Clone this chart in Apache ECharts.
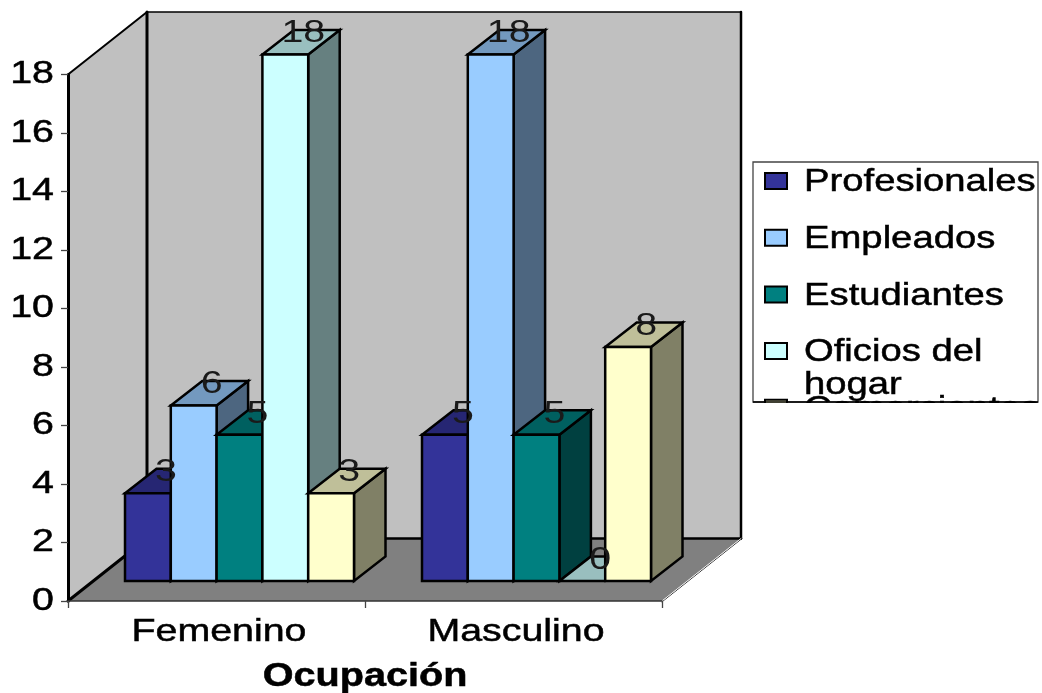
<!DOCTYPE html>
<html><head><meta charset="utf-8">
<style>html,body{margin:0;padding:0;background:#fff}#c{width:1042px;height:693px}</style>
<script src="https://cdn.jsdelivr.net/npm/echarts@6/dist/echarts.min.js"></script>
</head><body><div id="c"></div>
<script>
const categories = ['Femenino', 'Masculino'];
const yTicks = [0, 2, 4, 6, 8, 10, 12, 14, 16, 18];
const seriesNames = ['Profesionales', 'Empleados', 'Estudiantes', 'Oficios del\nhogar', 'Comerciantes'];
const profesionales = [3, 5];
const empleados = [6, 18];
const estudiantes = [5, 5];
const oficios = [18, 0];
const comerciantes = [3, 8];
const axisTitle = 'Ocupación';
const allValues = [profesionales, empleados, estudiantes, oficios, comerciantes];

const faces = [
  {front:'#333399', top:'#262673', side:'#1a1a4d'},
  {front:'#99ccff', top:'#7399bf', side:'#4d6680'},
  {front:'#008080', top:'#006060', side:'#004040'},
  {front:'#ccffff', top:'#99bfbf', side:'#668080'},
  {front:'#ffffcc', top:'#bfbf99', side:'#808066'}
];
const FONT = '"Liberation Sans", Arial, sans-serif';
const STRETCH = 1.23, SIZE = 32, LEGEND_STRETCH = 1.195;
const wall = {dx:79, dy:-62.5}, barDepth = {dx:31.5, dy:-24.5};
const barInset = 57, barWidth = 45.8, barLift = 20;
const edge = {stroke:'#000', lineWidth:2.5, lineJoin:'miter'};

function poly(pts, fill, st){ return {type:'polygon', shape:{points:pts}, style:Object.assign({fill}, st||edge)}; }
function seg(x1,y1,x2,y2,width,color){ return {type:'line',shape:{x1,y1,x2,y2},style:{stroke:color||'#000',lineWidth:width,lineCap:'round'}}; }
function textStyle(text, align, size, weight, color, sw){
  return {text, x:0, y:0, align, verticalAlign:'middle', fontFamily:FONT, fontSize:size,
    fontWeight:weight||'normal', fill:color||'#000', stroke:color||'#000', lineWidth:sw===undefined?0.5:sw};
}
function wideText(text, x, y, align, size, weight, color, sw){
  return {type:'text', x, y, scaleX:STRETCH, style:textStyle(text, align, size, weight, color, sw)};
}

function renderWalls(params, api){
  const band = api.size([1,0])[0];
  const l = api.coord([0,0])[0]-band/2, r = api.coord([1,0])[0]+band/2;
  const b = api.coord([0,0])[1], t = api.coord([0,18])[1];
  const d = wall, none = {stroke:null};
  return {type:'group', children:[
    poly([[l,t],[l+d.dx,t+d.dy],[l+d.dx,b+d.dy],[l,b]],'#c0c0c0',none),
    poly([[l+d.dx,t+d.dy],[r+d.dx,t+d.dy],[r+d.dx,b+d.dy],[l+d.dx,b+d.dy]],'#c0c0c0',none),
    poly([[l,b],[r,b],[r+d.dx,b+d.dy],[l+d.dx,b+d.dy]],'#808080',none),
    seg(l,t,l+d.dx,t+d.dy,2),
    seg(l+d.dx,t+d.dy,r+d.dx,t+d.dy,1.5),
    seg(l+d.dx,t+d.dy,l+d.dx,b+d.dy,3),
    seg(r+d.dx,t+d.dy,r+d.dx,b+d.dy,2.5),
    seg(l+d.dx,b+d.dy,r+d.dx,b+d.dy,2.5),
    seg(l,b,l+d.dx,b+d.dy,3),
    seg(r,b+0.8,r+d.dx,b+d.dy+0.8,1,'#222'),
    seg(r,b,r+d.dx,b+d.dy,1,'#eee')
  ]};
}
function barRender(si){
  return function(params, api){
    const i = api.value(0), v = api.value(1);
    const band = api.size([1,0])[0];
    const left = api.coord([i,0])[0]-band/2+barInset+si*barWidth, right = left+barWidth;
    const base = api.coord([i,0])[1]-barLift, top = api.coord([i,v])[1]-barLift;
    const D = barDepth, c = faces[si], kids = [];
    if(v>0) kids.push(poly([[right,top],[right+D.dx,top+D.dy],[right+D.dx,base+D.dy],[right,base]],c.side));
    kids.push(poly([[left,top],[right,top],[right+D.dx,top+D.dy],[left+D.dx,top+D.dy]],c.top));
    if(v>0) kids.push({type:'rect',shape:{x:left,y:top,width:barWidth,height:base-top},style:Object.assign({fill:c.front},edge)});
    return {type:'group',children:kids};
  };
}
function labelRender(si){
  return function(params, api){
    const i = api.value(0), v = api.value(1);
    const band = api.size([1,0])[0];
    const cx = api.coord([i,0])[0]-band/2+barInset+(si+.5)*barWidth+18;
    const y = api.coord([i,v])[1]-barLift-21;
    return wideText(String(v),cx,y,'center',SIZE,'normal','#1a1a1a',0);
  };
}
function yLabelRender(params, api){
  const band = api.size([1,0])[0];
  const x = api.coord([0,0])[0]-band/2-14;
  return wideText(String(api.value(1)),x,api.coord([0,api.value(1)])[1],'right',SIZE);
}
function xLabelRender(params, api){
  const i = api.value(0);
  return wideText(categories[i],api.coord([i,0])[0]+2.5,632,'center',SIZE);
}

const series = [
  {type:'custom',name:'walls',z:1,silent:true,renderItem:renderWalls,data:[[0,0]],encode:{x:0,y:1},clip:false,tooltip:{show:false}}
];
allValues.forEach((vals,si)=>{
  series.push({type:'custom',name:seriesNames[si].replace('\n',' '),z:4,renderItem:barRender(si),clip:false,
    data:vals.map((v,i)=>[i,v]),encode:{x:0,y:1}});
});
allValues.forEach((vals,si)=>{
  series.push({type:'custom',name:'labels'+si,z:6,silent:true,renderItem:labelRender(si),clip:false,
    data:vals.map((v,i)=>[i,v]),encode:{x:0,y:1}});
});
series.push({type:'custom',name:'yLabels',z:6,silent:true,renderItem:yLabelRender,clip:false,data:yTicks.map(t=>[0,t]),encode:{x:0,y:1}});
series.push({type:'custom',name:'xLabels',z:6,silent:true,renderItem:xLabelRender,clip:false,data:categories.map((c,i)=>[i,0]),encode:{x:0,y:1}});

const legendEls = [];
legendEls.push({type:'rect',z:20,shape:{x:753,y:162,width:285,height:240},style:{fill:'#fff',stroke:'#444',lineWidth:1.3}});
seriesNames.forEach((n,k)=>{
  const yTop = 173+k*56.7;
  legendEls.push({type:'rect',z:21,shape:{x:765,y:yTop,width:22,height:16},style:{fill:faces[k].front,stroke:'#000',lineWidth:2}});
  n.split('\n').forEach((ln,j)=>{
    legendEls.push({type:'text',z:21,x:804,y:yTop+9.5+j*33,scaleX:LEGEND_STRETCH,style:textStyle(ln,'left',SIZE)});
  });
});
legendEls.push({type:'rect',z:22,shape:{x:745,y:403,width:297,height:40},style:{fill:'#fff'}});
legendEls.push({type:'line',z:23,shape:{x1:753,y1:402,x2:1038,y2:402},style:{stroke:'#000',lineWidth:1.5}});
legendEls.push({type:'text',z:21,x:365,y:677,scaleX:1.2,style:textStyle(axisTitle,'center',33,'bold')});

const chart = echarts.init(document.getElementById('c'),null,{renderer:'canvas'});
chart.setOption({
  animation:false,
  backgroundColor:'#fff',
  grid:{left:68,right:380,top:74.5,bottom:92,containLabel:false},
  xAxis:{type:'category',data:categories,z:3,boundaryGap:true,
    axisLine:{show:true,lineStyle:{color:'#333',width:1.5}},
    axisTick:{show:true,alignWithLabel:false,length:7,lineStyle:{color:'#444',width:1.3}},
    axisLabel:{show:false},splitLine:{show:false}},
  yAxis:{type:'value',min:0,max:18,interval:2,z:3,
    axisLine:{show:true,lineStyle:{color:'#000',width:3}},
    axisTick:{show:true,length:7,lineStyle:{color:'#444',width:1.3}},
    axisLabel:{show:false},splitLine:{show:false}},
  graphic:{elements:legendEls},
  series
});
</script></body></html>
